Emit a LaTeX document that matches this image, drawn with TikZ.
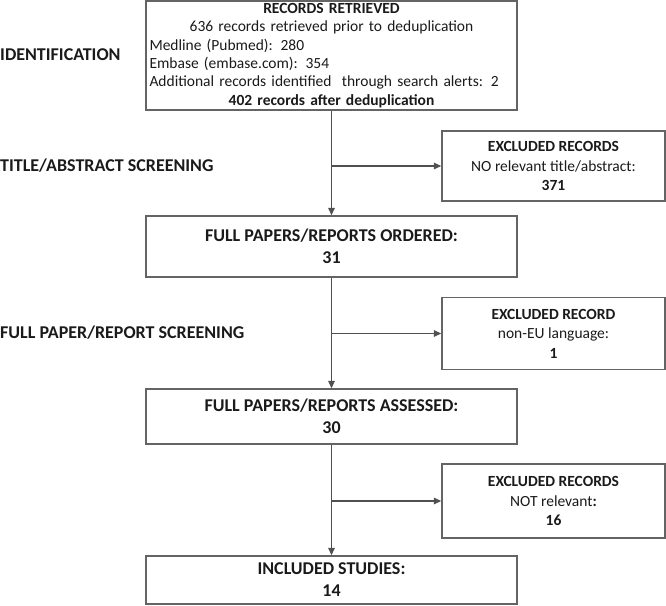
\documentclass[tikz,border=0pt]{standalone}
\usepackage{fontspec}
\setmainfont{Carlito}
\usetikzlibrary{arrows.meta}
\definecolor{boxgray}{HTML}{646464}
\definecolor{linegray}{HTML}{505050}
\definecolor{txt}{HTML}{1A1A1A}
\begin{document}
\begin{tikzpicture}[x=1pt,y=-1pt,
  box/.style={draw=boxgray, line width=1.4pt, rectangle, inner sep=0pt, align=center, text=txt},
  mainbox/.style={box, minimum width=371pt, font=\fontsize{18}{22}\selectfont\bfseries},
  exclbox/.style={box, minimum width=223pt, font=\fontsize{15.5}{19.5}\selectfont},
  arr/.style={draw=linegray, line width=1.4pt, -{Triangle[length=7.5pt,width=6.5pt]}},
  stage/.style={anchor=west, text=txt, inner sep=0pt, font=\fontsize{18}{20}\selectfont\bfseries}]
\useasboundingbox (0,0) rectangle (666,605);

% stage labels
\node[stage] (lid) at (0,55) {IDENTIFICATION};
\node[stage] (lta) at (0,166) {TITLE/ABSTRACT SCREENING};
\node[stage] (lfp) at (0,333) {FULL PAPER/REPORT SCREENING};

% records retrieved box
\node[box, minimum width=371pt, minimum height=109pt, text width=364pt, align=left,
      font=\fontsize{15.5}{18.3}\selectfont] (top) at (331.5,55.5)
  {{\centering\textbf{RECORDS RETRIEVED}\\636 records retrieved prior to deduplication\par}
   {\raggedright Medline (Pubmed): 280\\Embase (embase.com): 354\\Additional records identified\ \ through search alerts: 2\par}
   {\centering\textbf{402 records after deduplication}\par}};

% main boxes
\node[mainbox, minimum height=61pt] (ord) at (331.5,246.5) {FULL PAPERS/REPORTS ORDERED:\\31};
\node[mainbox, minimum height=55pt] (ass) at (331.5,416.5) {FULL PAPERS/REPORTS ASSESSED:\\30};
\node[mainbox, minimum height=48pt] (inc) at (331.5,580) {INCLUDED STUDIES:\\14};

% excluded boxes
\node[exclbox, minimum height=70pt] (ex1) at (553.5,166) {\textbf{EXCLUDED RECORDS}\\NO relevant title/abstract:\\\textbf{371}};
\node[exclbox, minimum height=72pt] (ex2) at (553.5,333.5) {\textbf{EXCLUDED RECORD}\\non-EU language:\\\textbf{1}};
\node[exclbox, minimum height=74pt] (ex3) at (553.5,501) {\textbf{EXCLUDED RECORDS}\\NOT relevant\textbf{:}\\\textbf{16}};

% connectors
\draw[arr] (top.south) -- (ord.north);
\draw[arr] (top.south |- ex1.west) -- (ex1.west);
\draw[arr] (ord.south) -- (ass.north);
\draw[arr] (ord.south |- ex2.west) -- (ex2.west);
\draw[arr] (ass.south) -- (inc.north);
\draw[arr] (ass.south |- ex3.west) -- (ex3.west);
\end{tikzpicture}
\end{document}
